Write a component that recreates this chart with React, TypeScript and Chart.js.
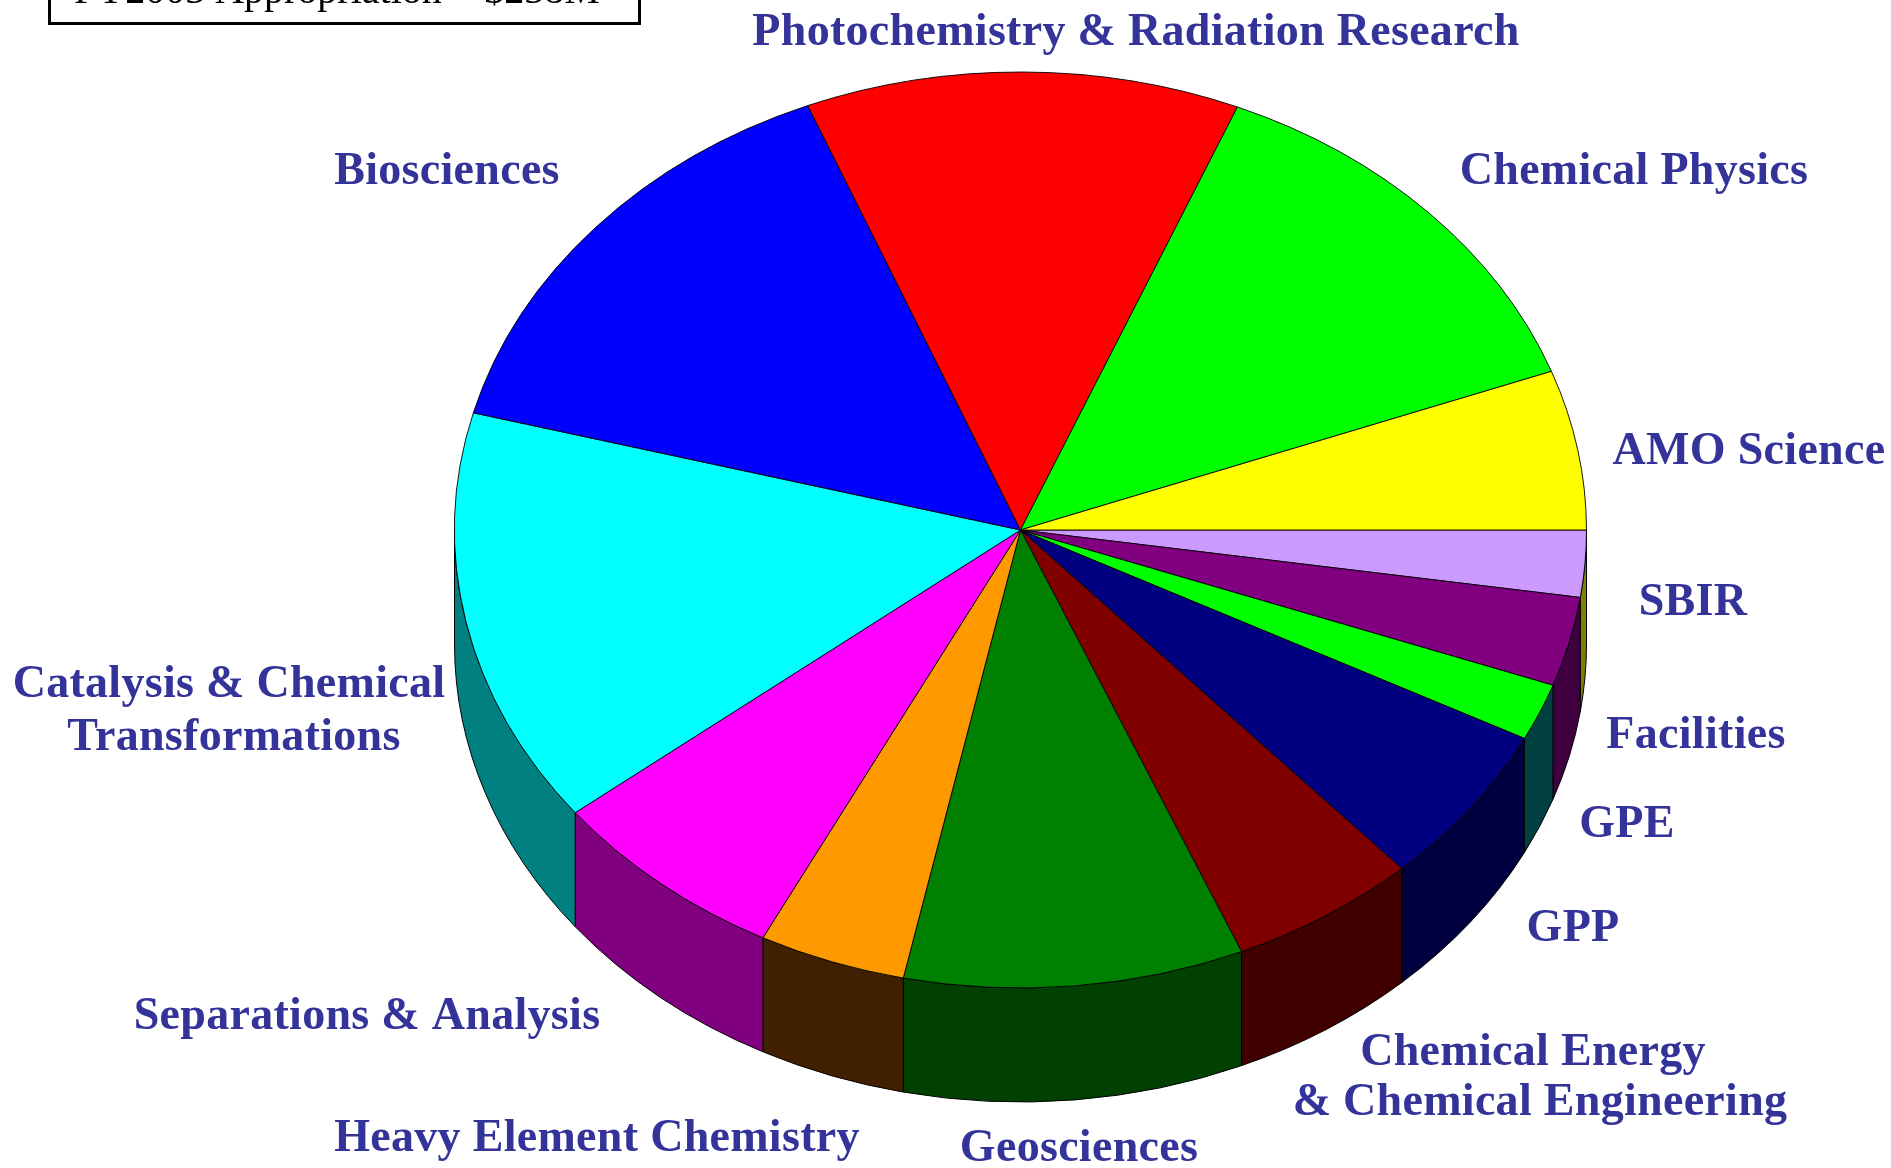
import { useEffect, useRef } from 'react';
import { Chart, registerables } from 'chart.js';

Chart.register(...registerables);

// ---- data (counter-clockwise from 3 o'clock, $M) ----
const CATEGORIES = [
  'AMO Science',
  'Chemical Physics',
  'Photochemistry & Radiation Research',
  'Biosciences',
  'Catalysis & Chemical Transformations',
  'Separations & Analysis',
  'Heavy Element Chemistry',
  'Geosciences',
  'Chemical Energy & Chemical Engineering',
  'GPP',
  'GPE',
  'Facilities',
  'SBIR',
];
const FUNDING = [13.4, 31.2, 29.5, 35.1, 35.0, 16.4, 10.0, 23.1, 12.8, 13.6, 4.8, 7.5, 5.6];
const LABEL_LINES: string[][] = [
  ['AMO Science'],
  ['Chemical Physics'],
  ['Photochemistry & Radiation Research'],
  ['Biosciences'],
  ['Catalysis & Chemical', 'Transformations'],
  ['Separations & Analysis'],
  ['Heavy Element Chemistry'],
  ['Geosciences'],
  ['Chemical Energy', '& Chemical Engineering'],
  ['GPP'],
  ['GPE'],
  ['Facilities'],
  ['SBIR'],
];
const TOTAL_TEXT = 'FY2003 Appropriation = $238M';

// ---- styles ----
const TOP_COLORS = ['#FFFF00', '#00FF00', '#FF0000', '#0000FF', '#00FFFF', '#FF00FF', '#FF9900', '#008000', '#800000', '#000080', '#00FF00', '#800080', '#CC99FF'];
const SIDE_COLORS = ['#808000', '#008000', '#800000', '#000080', '#008080', '#800080', '#402000', '#004000', '#400000', '#000040', '#004040', '#400040', '#808000'];

// ---- layout ----
const W = 1891;
const H = 1168;
const CX = 1020.5;
const RX = 566;
const RY = 458;
const CY_TARGET = 530;
const DEPTH = 114;
const LABEL_COLOR = '#333399';
const LABEL_FONT = "bold 46px 'Liberation Serif', 'Times New Roman', serif";
// [x, baseline] for each line of each label
const LABEL_POS: number[][][] = [
  [[1749, 464]],
  [[1634, 184]],
  [[1136, 45]],
  [[447, 184]],
  [[229, 697], [234, 750]],
  [[367, 1029]],
  [[597, 1151]],
  [[1079, 1161]],
  [[1533, 1065], [1540, 1115]],
  [[1573, 941]],
  [[1627, 837]],
  [[1696, 748]],
  [[1693, 615]],
];

const tiltPlugin = {
  id: 'tilt3d',
  beforeDatasetsDraw(chart: any) {
    const ctx: CanvasRenderingContext2D = chart.ctx;
    const meta = chart.getDatasetMeta(0);
    const arcs = meta.data;
    if (!arcs.length) return;
    const a0: any = arcs[0];
    const cx = a0.x;
    const cy = a0.y;
    const r = a0.outerRadius;
    const ry = RY;
    const n = arcs.length;
    // side walls (front half: canvas angles 0..PI)
    for (let i = 0; i < n; i++) {
      const arc: any = arcs[i];
      const s = Math.max(arc.startAngle, 0);
      const e = Math.min(arc.endAngle, Math.PI);
      if (e <= s) continue;
      const srcIndex = n - 1 - i;
      ctx.save();
      ctx.beginPath();
      ctx.ellipse(cx, CY_TARGET, r, ry, 0, s, e, false);
      ctx.lineTo(cx + r * Math.cos(e), CY_TARGET + DEPTH + ry * Math.sin(e));
      ctx.ellipse(cx, CY_TARGET + DEPTH, r, ry, 0, e, s, true);
      ctx.closePath();
      ctx.fillStyle = SIDE_COLORS[srcIndex];
      ctx.fill();
      ctx.lineWidth = 1;
      ctx.strokeStyle = '#000';
      ctx.stroke();
      ctx.restore();
    }
    ctx.save();
    ctx.translate(cx, CY_TARGET);
    ctx.scale(1, ry / r);
    ctx.translate(-cx, -cy);
  },
  afterDatasetsDraw(chart: any) {
    chart.ctx.restore();
  },
  afterDraw(chart: any) {
    const ctx: CanvasRenderingContext2D = chart.ctx;
    ctx.save();
    // labels
    ctx.fillStyle = LABEL_COLOR;
    ctx.font = LABEL_FONT;
    (ctx as any).letterSpacing = '0.3px';
    ctx.textAlign = 'center';
    ctx.textBaseline = 'alphabetic';
    LABEL_LINES.forEach((lines, i) => {
      lines.forEach((t, j) => {
        const [x, y] = LABEL_POS[i][j];
        ctx.fillText(t, x, y);
      });
    });
    // appropriation box (cut at top edge)
    (ctx as any).letterSpacing = '0px';
    ctx.fillStyle = '#000';
    ctx.font = "40px 'Liberation Serif', 'Times New Roman', serif";
    ctx.textAlign = 'left';
    ctx.fillText(TOTAL_TEXT, 74, 3);
    ctx.lineWidth = 3;
    ctx.strokeStyle = '#000';
    ctx.strokeRect(49.5, -20, 590, 43.5);
    ctx.restore();
  },
};

export default function App() {
  const ref = useRef<HTMLCanvasElement | null>(null);
  useEffect(() => {
    if (!ref.current) return;
    const order = FUNDING.map((_, i) => FUNDING.length - 1 - i);
    const chart = new Chart(ref.current, {
      type: 'pie',
      data: {
        labels: order.map((i) => CATEGORIES[i]),
        datasets: [
          {
            data: order.map((i) => FUNDING[i]),
            backgroundColor: order.map((i) => TOP_COLORS[i]),
            borderColor: '#000000',
            borderWidth: 1,
            clip: false as any,
          },
        ],
      },
      options: {
        animation: false,
        responsive: false,
        devicePixelRatio: 1,
        rotation: 90,
        radius: RX,
        events: [],
        layout: { padding: { left: 2 * CX - W, right: 0, top: 0, bottom: 0 } },
        plugins: { legend: { display: false }, tooltip: { enabled: false } },
      } as any,
      plugins: [tiltPlugin],
    });
    return () => chart.destroy();
  }, []);
  return (
    <canvas
      ref={ref}
      width={W}
      height={H}
      style={{ position: 'absolute', left: 0, top: 0, width: W, height: H, background: '#fff' }}
    />
  );
}
